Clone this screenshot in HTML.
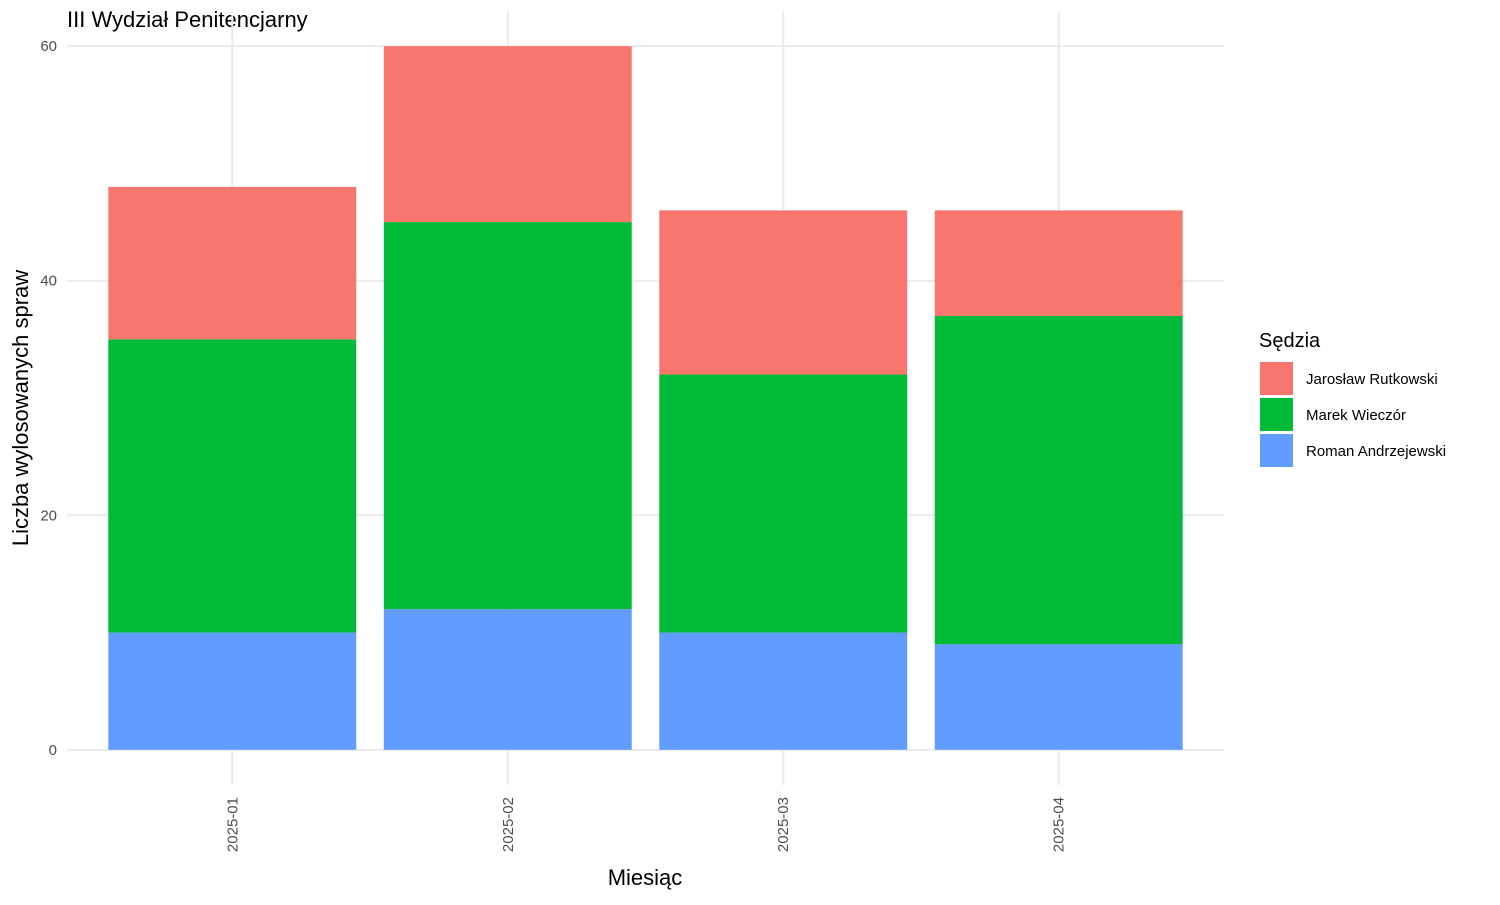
<!DOCTYPE html>
<html><head><meta charset="utf-8"><style>
body{margin:0;background:#fff}
svg text{font-family:"Liberation Sans",sans-serif}
</style></head><body>
<svg id="chart" width="1500" height="900" xmlns="http://www.w3.org/2000/svg">
<text x="67" y="27" font-size="22" fill="#000">III Wydział Penitencjarny</text>
<g id="grid"></g><g id="bars"></g><g id="axes"></g>
<text x="645" y="885" font-size="22" text-anchor="middle" fill="#000">Miesiąc</text>
<text transform="translate(28,408) rotate(-90)" font-size="22" text-anchor="middle" fill="#000">Liczba wylosowanych spraw</text>
<g id="legend"></g>
</svg>
<script>
const categories=["2025-01","2025-02","2025-03","2025-04"];
const seriesNames=["Roman Andrzejewski","Marek Wieczór","Jarosław Rutkowski"];
const roman=[10,12,10,9];
const marek=[25,33,22,28];
const jaroslaw=[13,15,14,9];
const yTicks=[0,20,40,60];
const colors=["#619CFF","#00BA38","#F8766D"];
const series=[roman,marek,jaroslaw];
const NS="http://www.w3.org/2000/svg";
const pLeft=67,pRight=1224,pTop=11,pBottom=785;
const yMin=-3,yMax=63;
const yScale=v=>pBottom-(v-yMin)/(yMax-yMin)*(pBottom-pTop);
const step=(pRight-pLeft)/(categories.length+0.2);
const xScale=i=>pLeft+step*(0.6+i);
const bw=step*0.9;
function el(t,a,p){const e=document.createElementNS(NS,t);for(const k in a)e.setAttribute(k,a[k]);p.appendChild(e);return e;}
const grid=document.getElementById('grid'),bars=document.getElementById('bars'),axes=document.getElementById('axes'),legend=document.getElementById('legend');
yTicks.forEach(t=>{
 const l=el('line',{x1:pLeft,x2:pRight,y1:yScale(t),y2:yScale(t),stroke:'#ebebeb','stroke-width':2},grid);
 
 
 const tx=el('text',{x:57,y:yScale(t)+5,'font-size':15,'text-anchor':'end',fill:'#4d4d4d'},axes);
 tx.textContent=t;
 
 
});
categories.forEach((c,i)=>{
 const l=el('line',{x1:xScale(i),x2:xScale(i),y1:pTop,y2:pBottom,stroke:'#ebebeb','stroke-width':2},grid);
 
 
 const tx=el('text',{transform:`translate(${xScale(i)+5},797) rotate(-90)`,'font-size':15,'text-anchor':'end',fill:'#4d4d4d'},axes);
 tx.textContent=c;
 
 
 let cum=0;
 series.forEach((s,k)=>{
  const y0=yScale(cum),y1=yScale(cum+s[i]);cum+=s[i];
  const r=el('rect',{x:xScale(i)-bw/2,y:y1,width:bw,height:y0-y1,fill:colors[k]},bars);
  
  
 });
});
const lt=el('text',{x:1259,y:347,'font-size':20,fill:'#000'},legend);
lt.textContent='Sędzia';


[2,1,0].forEach((k,j)=>{
 const yy=362+j*36;
 const r=el('rect',{x:1260,y:yy,width:33,height:33,fill:colors[k]},legend);
 
 
 const t=el('text',{x:1306,y:yy+22,'font-size':15,fill:'#000'},legend);
 t.textContent=seriesNames[k];
 
 
});
</script>
</body></html>
